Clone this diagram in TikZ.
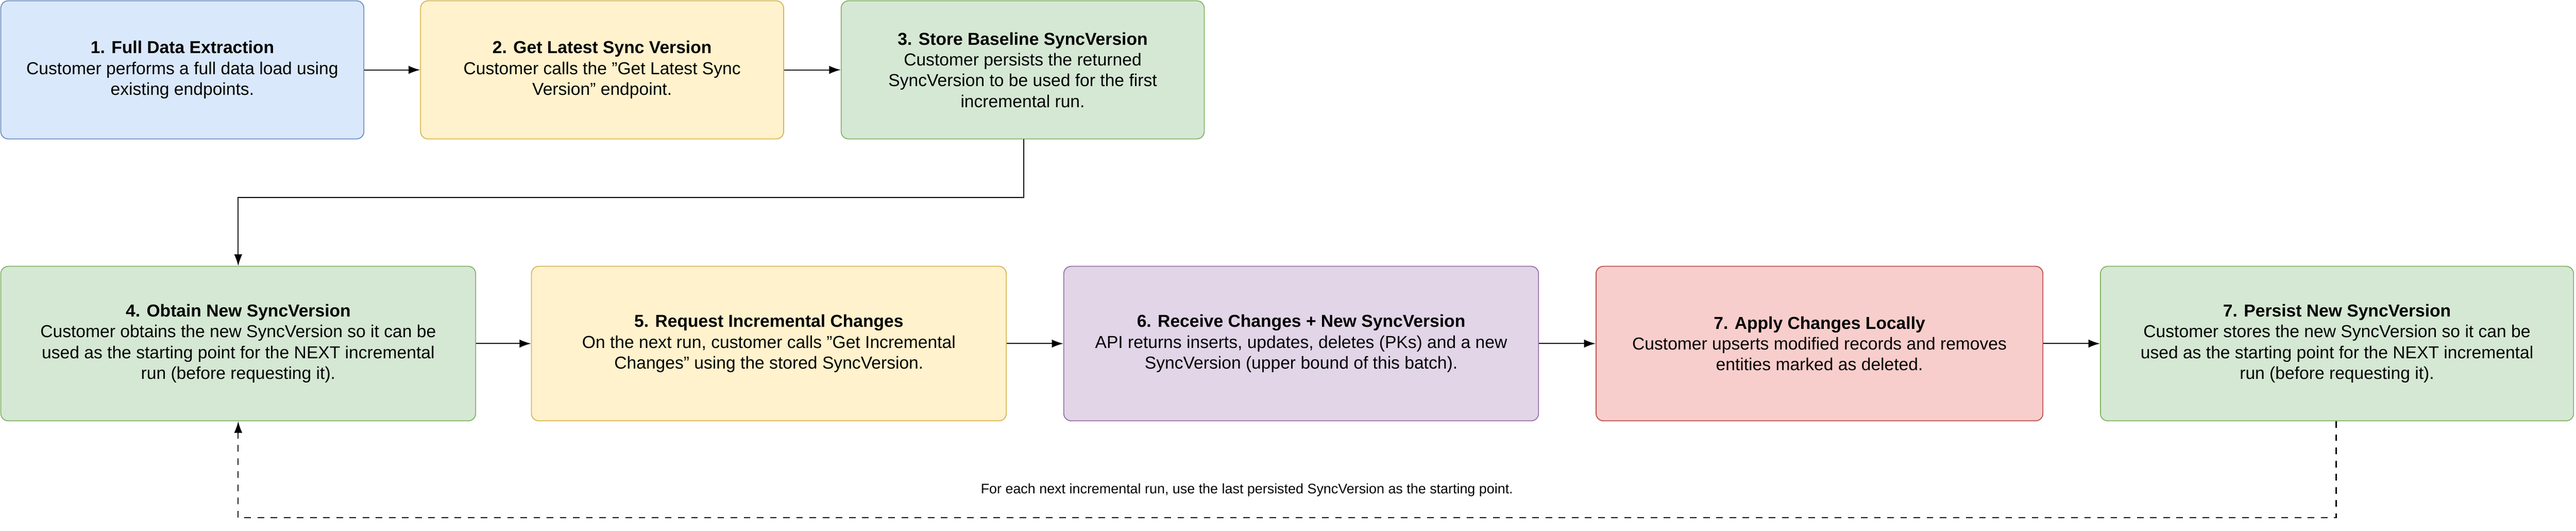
\documentclass[tikz,border=0pt]{standalone}
\usepackage{fontspec}
\setmainfont{Liberation Sans}
\usetikzlibrary{arrows.meta}
\definecolor{blueF}{HTML}{DAE8FC}\definecolor{blueD}{HTML}{6C8EBF}
\definecolor{yelF}{HTML}{FFF2CC}\definecolor{yelD}{HTML}{D6B656}
\definecolor{grnF}{HTML}{D5E8D4}\definecolor{grnD}{HTML}{82B366}
\definecolor{purF}{HTML}{E1D5E7}\definecolor{purD}{HTML}{9673A6}
\definecolor{redF}{HTML}{F8CECC}\definecolor{redD}{HTML}{B85450}

\begin{document}
\begin{tikzpicture}[
		stepbox/.style={draw, rounded corners=0.45cm, line width=1.6pt, align=center, inner sep=0pt,
			font=\fontsize{30}{36}\selectfont},
		flow/.style={line width=1.8pt, -{Latex[length=0.7cm,width=0.5cm]}}
	]
		\useasboundingbox (0,0) rectangle (156.8,-32.3);
		% top row
		\node [stepbox, fill=blueF, draw=blueD, minimum width=22.1cm, minimum height=8.4cm] (extract) at (11.1,-4.25)
			{\textbf{1. Full Data Extraction}\\Customer performs a full data load using\\existing endpoints.};
		\node [stepbox, fill=yelF, draw=yelD, minimum width=22.1cm, minimum height=8.4cm] (latest) at (36.65,-4.25)
			{\textbf{2. Get Latest Sync Version}\\Customer calls the "Get Latest Sync\\Version" endpoint.};
		\node [stepbox, fill=grnF, draw=grnD, minimum width=22.1cm, minimum height=8.4cm] (baseline) at (62.25,-4.25)
			{\textbf{3. Store Baseline SyncVersion}\\Customer persists the returned\\SyncVersion to be used for the first\\incremental run.};
		% bottom row
		\node [stepbox, fill=grnF, draw=grnD, minimum width=28.9cm, minimum height=9.4cm] (obtain) at (14.5,-20.9)
			{\textbf{4. Obtain New SyncVersion}\\Customer obtains the new SyncVersion so it can be\\used as the starting point for the NEXT incremental\\run (before requesting it).};
		\node [stepbox, fill=yelF, draw=yelD, minimum width=28.9cm, minimum height=9.4cm] (request) at (46.8,-20.9)
			{\textbf{5. Request Incremental Changes}\\On the next run, customer calls "Get Incremental\\Changes" using the stored SyncVersion.};
		\node [stepbox, fill=purF, draw=purD, minimum width=28.9cm, minimum height=9.4cm] (receive) at (79.2,-20.9)
			{\textbf{6. Receive Changes + New SyncVersion}\\API returns inserts, updates, deletes (PKs) and a new\\SyncVersion (upper bound of this batch).};
		\node [stepbox, fill=redF, draw=redD, minimum width=27.2cm, minimum height=9.4cm] (apply) at (110.75,-20.9)
			{\textbf{7. Apply Changes Locally}\\Customer upserts modified records and removes\\entities marked as deleted.};
		\node [stepbox, fill=grnF, draw=grnD, minimum width=28.8cm, minimum height=9.4cm] (persist) at (142.25,-20.9)
			{\textbf{7. Persist New SyncVersion}\\Customer stores the new SyncVersion so it can be\\used as the starting point for the NEXT incremental\\run (before requesting it).};

		\draw [flow] (extract) -- (latest);
		\draw [flow] (latest) -- (baseline);
		\draw [flow] (baseline.south -| 62.3,0) -- (62.3,-12) -| (obtain.north);
		\draw [flow] (obtain) -- (request);
		\draw [flow] (request) -- (receive);
		\draw [flow] (receive) -- (apply);
		\draw [flow] (apply) -- (persist);
		\draw [flow, dashed, dash pattern=on 0.4cm off 0.4cm] (persist.south -| 142.2,0) -- (142.2,-31.5) -| (obtain.south);
		\node [font=\fontsize{24}{29}\selectfont] (note) at (75.9,-29.8)
			{For each next incremental run, use the last persisted SyncVersion as the starting point.};
	\end{tikzpicture}
\end{document}
